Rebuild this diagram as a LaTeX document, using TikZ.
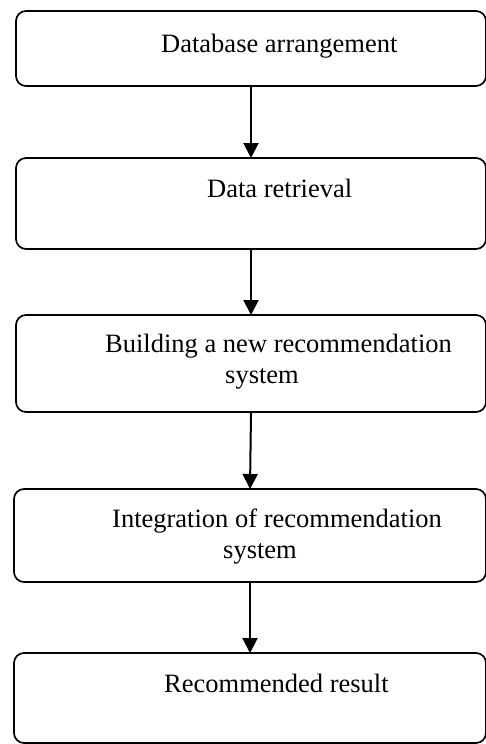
\documentclass[tikz,border=0pt]{standalone}
\usepackage{fontspec}
\setmainfont{Liberation Serif}
\usetikzlibrary{arrows.meta}
\begin{document}
\begin{tikzpicture}[x=1pt,y=-1pt,
  stagebox/.style={draw=black, line width=1.7pt, rounded corners=10pt,
    rectangle, inner sep=0pt, outer sep=0pt},
  label/.style={anchor=base west, inner sep=0pt,
    font=\fontsize{26.5}{32}\selectfont},
  flow/.style={line width=2pt, -{Triangle[width=15pt,length=15pt]}}]
\useasboundingbox (0,0) rectangle (486,744);

% stage boxes
\node[stagebox, minimum width=470pt, minimum height=75pt] (b1) at (251,48.5) {};
\node[stagebox, minimum width=470pt, minimum height=91pt] (b2) at (251,203.5) {};
\node[stagebox, minimum width=470pt, minimum height=97pt] (b3) at (251,363.5) {};
\node[stagebox, minimum width=472pt, minimum height=93pt] (b4) at (250,535.5) {};
\node[stagebox, minimum width=472pt, minimum height=90pt] (b5) at (250,698) {};

% stage labels
\node[label] (t1) at (161,52) {Database arrangement};
\node[label] (t2) at (207,197) {Data retrieval};
\node[label] (t3a) at (105,352) {Building a new recommendation};
\node[label] (t3b) at (225,383) {system};
\node[label] (t4a) at (112,527) {Integration of recommendation};
\node[label] (t4b) at (223,558) {system};
\node[label] (t5) at (164,692) {Recommended result};

% flow arrows
\draw[flow] (b1.south) -- (b2.north);
\draw[flow] (b2.south) -- (b3.north);
\draw[flow] (b3.south) -- (b4.north);
\draw[flow] (b4.south) -- (b5.north);
\end{tikzpicture}
\end{document}
